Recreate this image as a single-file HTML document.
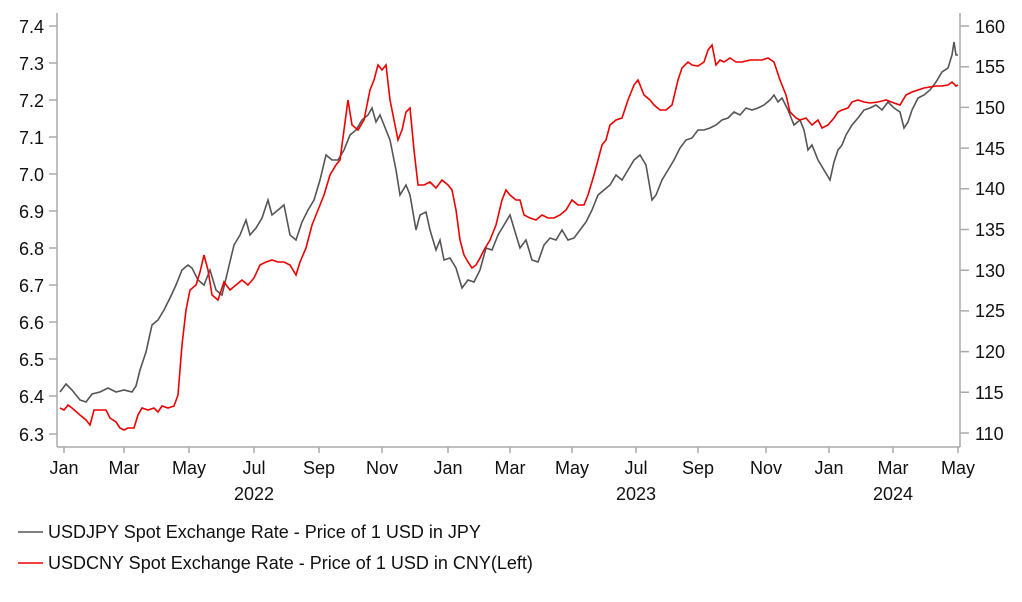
<!DOCTYPE html>
<html><head><meta charset="utf-8"><style>
body{margin:0;background:#fff;}
svg text{font-family:"Liberation Sans",Arial,sans-serif;fill:#111;}
</style></head><body>
<svg width="1022" height="597" xmlns="http://www.w3.org/2000/svg">
<g stroke="#aaa" stroke-width="1.5" fill="none">
<line x1="57" y1="13" x2="57" y2="447"/>
<line x1="960" y1="13" x2="960" y2="447"/>
<line x1="57" y1="447" x2="960" y2="447"/>
<path d="M49 26H57M49 63H57M49 100H57M49 137H57M49 174H57M49 211H57M49 248H57M49 285H57M49 322H57M49 359H57M49 396H57M49 434H57"/>
<path d="M960 26H969M960 66.7H969M960 107.4H969M960 148.1H969M960 188.8H969M960 229.5H969M960 270.2H969M960 310.9H969M960 351.6H969M960 392.3H969M960 433H969"/>
<path d="M64 447V453M124 447V453M189 447V453M254 447V453M319 447V453M382 447V453M448 447V453M510 447V453M572 447V453M636 447V453M698 447V453M766 447V453M829 447V453M893 447V453M958 447V453"/>
</g>
<g font-size="18" text-anchor="end">
<text x="44" y="33">7.4</text><text x="44" y="70">7.3</text><text x="44" y="107">7.2</text><text x="44" y="144">7.1</text><text x="44" y="181">7.0</text><text x="44" y="218">6.9</text><text x="44" y="255">6.8</text><text x="44" y="292">6.7</text><text x="44" y="329">6.6</text><text x="44" y="366">6.5</text><text x="44" y="403">6.4</text><text x="44" y="441">6.3</text>
</g>
<g font-size="18">
<text x="975" y="33">160</text><text x="975" y="73">155</text><text x="975" y="114">150</text><text x="975" y="155">145</text><text x="975" y="195">140</text><text x="975" y="236">135</text><text x="975" y="277">130</text><text x="975" y="317">125</text><text x="975" y="358">120</text><text x="975" y="399">115</text><text x="975" y="440">110</text>
</g>
<g font-size="18" text-anchor="middle">
<text x="64" y="474">Jan</text><text x="124" y="474">Mar</text><text x="189" y="474">May</text><text x="254" y="474">Jul</text><text x="319" y="474">Sep</text><text x="382" y="474">Nov</text><text x="448" y="474">Jan</text><text x="510" y="474">Mar</text><text x="572" y="474">May</text><text x="636" y="474">Jul</text><text x="698" y="474">Sep</text><text x="766" y="474">Nov</text><text x="829" y="474">Jan</text><text x="893" y="474">Mar</text><text x="958" y="474">May</text>
<text x="254" y="500">2022</text><text x="636" y="500">2023</text><text x="893" y="500">2024</text>
</g>
<polyline fill="none" stroke="#555" stroke-width="1.6" points="60,392 66,384 72,390 80,400 86,402 92,394 100,392 108,388 116,392 124,390 132,392 136,386 140,370 146,352 152,325 158,320 164,310 170,298 176,285 182,270 188,265 192,268 198,280 204,285 210,270 216,290 222,295 228,270 234,245 240,235 246,220 250,235 256,228 262,218 268,200 272,215 278,210 284,205 290,235 296,240 302,222 308,210 314,200 320,180 326,155 332,160 338,160 344,150 350,135 356,130 362,120 368,115 372,108 376,122 380,115 386,130 390,140 396,170 400,195 406,185 410,195 416,230 420,215 426,212 430,230 436,250 440,240 444,260 450,258 456,268 462,288 468,280 474,282 480,270 486,248 492,250 498,235 504,225 510,215 516,235 520,248 526,240 532,260 538,262 544,245 550,238 556,240 562,230 568,240 574,238 580,230 586,222 592,210 598,195 604,190 610,185 616,175 622,180 628,170 634,160 640,155 646,165 652,200 656,195 662,180 668,170 674,160 680,148 686,140 692,138 698,130 704,130 710,128 716,125 722,120 728,118 734,112 740,115 746,108 752,110 758,108 764,105 770,100 774,95 778,102 782,98 788,110 794,125 800,120 804,130 808,150 812,145 818,160 824,170 830,180 834,162 838,150 842,145 846,135 852,125 858,118 864,110 870,108 876,105 882,110 888,102 894,108 900,112 904,128 908,122 912,110 918,98 924,95 930,90 936,82 942,72 948,68 952,55 954,42 956,55 958,55"/>
<polyline fill="none" stroke="#e00" stroke-width="1.6" points="60,408 64,410 68,405 72,408 80,415 86,420 90,425 94,410 100,410 106,410 110,418 116,422 120,428 124,430 128,428 134,428 138,415 142,408 148,410 154,408 158,412 162,406 168,408 174,406 178,395 182,345 186,310 190,290 196,285 200,272 204,255 208,270 212,295 218,300 224,282 230,290 236,285 242,280 248,285 254,278 260,265 266,262 272,260 278,262 284,262 290,265 296,275 300,262 306,248 312,225 318,210 324,195 330,175 336,165 340,160 344,130 348,100 352,125 358,130 364,120 370,90 374,80 378,65 382,70 386,65 390,100 394,120 398,140 402,130 406,112 410,108 414,150 418,185 424,185 430,182 436,188 442,180 448,185 452,190 456,210 460,240 464,255 468,262 472,268 476,265 480,258 484,250 490,240 496,225 502,200 506,190 510,195 516,200 520,200 524,215 530,218 536,220 542,215 548,218 554,218 560,215 566,210 572,200 578,205 584,205 588,195 594,175 598,160 602,145 606,140 610,125 616,120 622,118 628,100 634,85 638,80 644,95 650,100 654,105 660,110 666,110 672,105 678,80 682,68 688,62 692,65 698,66 704,62 708,50 712,45 716,65 720,60 724,62 730,58 736,62 742,62 750,60 756,60 762,60 768,58 774,62 780,80 786,95 790,112 796,118 800,120 806,118 812,125 818,120 822,128 828,125 834,118 838,112 842,110 848,108 852,102 858,100 864,102 870,103 878,102 886,100 894,103 900,105 906,95 912,92 918,90 924,88 930,87 936,86 942,86 948,85 952,82 956,86 958,85"/>
<line x1="18" y1="532" x2="43" y2="532" stroke="#555" stroke-width="1.6"/>
<line x1="18" y1="563" x2="43" y2="563" stroke="#e00" stroke-width="1.6"/>
<text x="48" y="538" font-size="18">USDJPY Spot Exchange Rate - Price of 1 USD in JPY</text>
<text x="48" y="569" font-size="18">USDCNY Spot Exchange Rate - Price of 1 USD in CNY(Left)</text>
</svg>
</body></html>
